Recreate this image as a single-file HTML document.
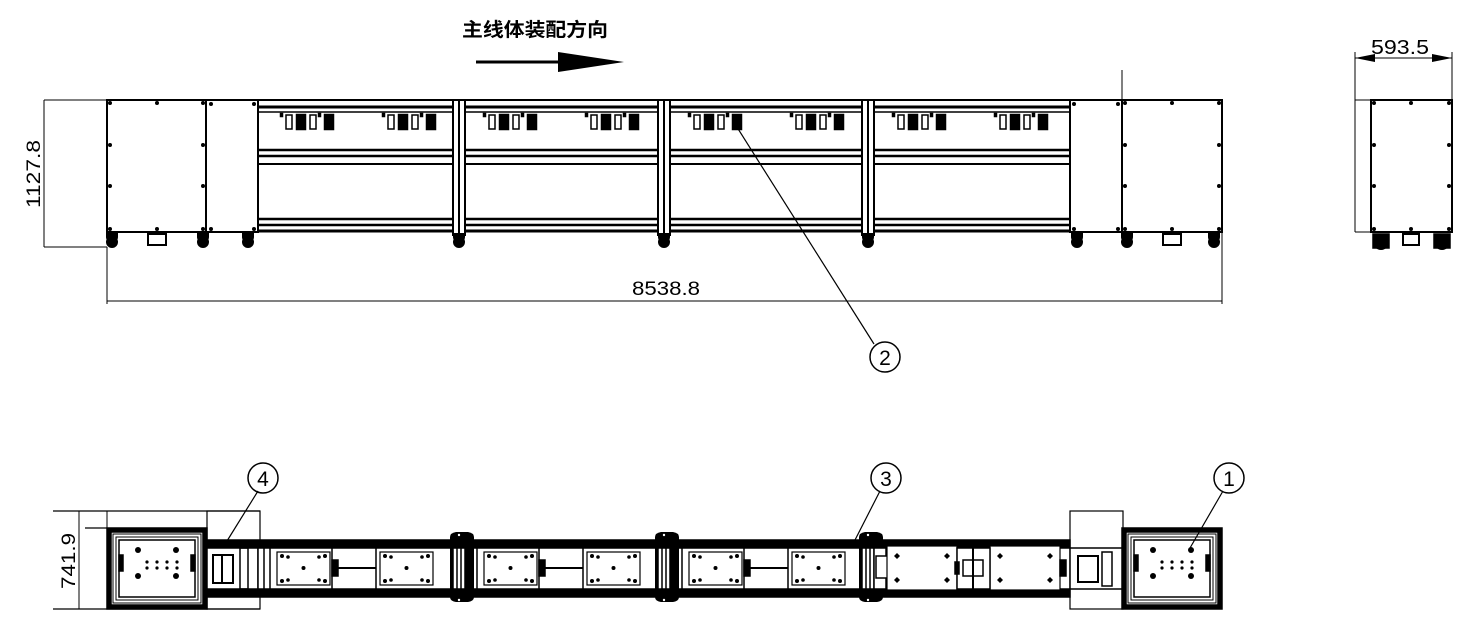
<!DOCTYPE html>
<html><head><meta charset="utf-8"><style>
html,body{margin:0;padding:0;background:#fff;}
svg{display:block;}
text{font-family:"Liberation Sans","Noto Sans CJK SC",sans-serif;}
</style></head><body>
<svg id="s" width="1471" height="626" viewBox="0 0 1471 626" xmlns="http://www.w3.org/2000/svg" stroke="#000" fill="none" stroke-width="1.5">
<!-- title + arrow -->
<text x="462" y="36" font-size="19" font-weight="bold" fill="#000" stroke="none" textLength="146" lengthAdjust="spacingAndGlyphs" font-family="'Noto Sans CJK SC',sans-serif">主线体装配方向</text>
<line x1="476" y1="62" x2="565" y2="62" stroke-width="3"/>
<polygon points="558,52 624,62 558,72" fill="#000" stroke="none"/>

<!-- top view: left dims -->
<line x1="44" y1="100" x2="107" y2="100" stroke-width="1"/>
<line x1="44" y1="247" x2="107" y2="247" stroke-width="1"/>
<line x1="44" y1="100" x2="44" y2="247" stroke-width="1"/>
<text transform="translate(40,174) rotate(-90)" text-anchor="middle" font-size="19" fill="#000" stroke="none" textLength="68" lengthAdjust="spacingAndGlyphs" font-family="'Liberation Mono',monospace">1127.8</text>

<!-- cabinets top -->
<rect x="107" y="100" width="99" height="132" stroke-width="2"/>
<rect x="206" y="100" width="52" height="132" stroke-width="2"/>
<rect x="1070" y="100" width="52" height="132" stroke-width="2"/>
<rect x="1122" y="100" width="100" height="132" stroke-width="2"/>
<line x1="1122" y1="70" x2="1122" y2="100" stroke-width="1"/>
<line x1="1222" y1="232" x2="1222" y2="250" stroke-width="1"/>
<!-- frame -->
<line x1="258" y1="100" x2="1070" y2="100" stroke-width="2"/>
<line x1="258" y1="107" x2="1070" y2="107" stroke-width="3"/>
<line x1="258" y1="112" x2="1070" y2="112" stroke-width="1.5"/>
<line x1="258" y1="150" x2="1070" y2="150" stroke-width="2.5"/>
<line x1="258" y1="156" x2="1070" y2="156" stroke-width="2.5"/>
<line x1="258" y1="164" x2="1070" y2="164" stroke-width="2"/>
<line x1="258" y1="219" x2="1070" y2="219" stroke-width="2.5"/>
<line x1="258" y1="225" x2="1070" y2="225" stroke-width="2.5"/>
<line x1="258" y1="231" x2="1070" y2="231" stroke-width="3"/>
<g id="topdyn"></g>

<!-- 8538.8 dim -->
<line x1="107" y1="247" x2="107" y2="304" stroke-width="1"/>
<line x1="1222" y1="250" x2="1222" y2="304" stroke-width="1"/>
<line x1="107" y1="301" x2="1222" y2="301" stroke-width="1"/>
<text x="666" y="295" text-anchor="middle" font-size="19" fill="#000" stroke="none" textLength="68" lengthAdjust="spacingAndGlyphs" font-family="'Liberation Mono',monospace">8538.8</text>

<!-- leader 2 -->
<line x1="735" y1="124" x2="874" y2="344" stroke-width="1.2"/>
<circle cx="885" cy="357" r="15" stroke-width="1.5"/>
<text x="885" y="365" text-anchor="middle" font-size="21" fill="#000" stroke="none">2</text>

<!-- side view right -->
<line x1="1355" y1="52" x2="1355" y2="232" stroke-width="1"/>
<line x1="1452" y1="52" x2="1452" y2="100" stroke-width="1"/>
<line x1="1355" y1="58" x2="1452" y2="58" stroke-width="1"/>
<polygon points="1355,58 1375,54 1375,62" fill="#000" stroke="none"/>
<polygon points="1452,58 1432,54 1432,62" fill="#000" stroke="none"/>
<text x="1400" y="54" text-anchor="middle" font-size="20" fill="#000" stroke="none" textLength="58" lengthAdjust="spacingAndGlyphs">593.5</text>
<line x1="1355" y1="100" x2="1371" y2="100" stroke-width="1"/>
<line x1="1355" y1="232" x2="1371" y2="232" stroke-width="1"/>
<rect x="1371" y="100" width="81" height="132" stroke-width="2"/>

<!-- bottom view -->
<line x1="53" y1="511" x2="260" y2="511" stroke-width="1.2"/>
<line x1="53" y1="609" x2="260" y2="609" stroke-width="1.2"/>
<line x1="79" y1="511" x2="79" y2="609" stroke-width="1"/>
<text transform="translate(75,561) rotate(-90)" text-anchor="middle" font-size="19" fill="#000" stroke="none" textLength="56" lengthAdjust="spacingAndGlyphs" font-family="'Liberation Mono',monospace">741.9</text>
<line x1="107" y1="511" x2="107" y2="609" stroke-width="1"/>
<line x1="85" y1="528" x2="107" y2="528" stroke-width="1.2"/>
<rect x="207" y="511" width="53" height="98" stroke-width="1.2"/>
<rect x="1070" y="511" width="53" height="98" stroke-width="1.2"/>
<g id="botdyn"></g>

<!-- circles bottom -->
<line x1="258" y1="491" x2="227" y2="541" stroke-width="1.2"/>
<circle cx="263" cy="478" r="15"/>
<text x="263" y="486" text-anchor="middle" font-size="21" fill="#000" stroke="none">4</text>
<line x1="880" y1="491" x2="855" y2="540" stroke-width="1.2"/>
<circle cx="886" cy="478" r="15"/>
<text x="886" y="486" text-anchor="middle" font-size="21" fill="#000" stroke="none">3</text>
<line x1="1223" y1="491" x2="1190" y2="548" stroke-width="1.2"/>
<circle cx="1229" cy="478" r="15"/>
<text x="1229" y="486" text-anchor="middle" font-size="21" fill="#000" stroke="none">1</text>
</svg>
<script>
var NS="http://www.w3.org/2000/svg";
function el(p,t,a){var e=document.createElementNS(NS,t);for(var k in a)e.setAttribute(k,a[k]);document.getElementById(p).appendChild(e);return e;}
function R(p,x,y,w,h,f,sw){return el(p,"rect",{x:x,y:y,width:w,height:h,fill:f||"none","stroke-width":sw||1.5});}
function C(p,x,y,r){return el(p,"circle",{cx:x,cy:y,r:r,fill:"#000",stroke:"none"});}
function L(p,a,b,c,d,w){return el(p,"line",{x1:a,y1:b,x2:c,y2:d,"stroke-width":w||1.5});}
var T="topdyn",B="botdyn";
[453,658,862].forEach(function(x){R(T,x,100,12,135,"#fff",2);L(T,x+6,100,x+6,235,2);});
L(T,258,100,258,232,2);
function grp(x){R(T,x,113,3,4,"#000",0.5);R(T,x+6,115,6,14,"#fff",1.5);R(T,x+16,114,10,16,"#000",0.5);R(T,x+30,115,6,14,"#fff",1.5);R(T,x+38,113,3,4,"#000",0.5);R(T,x+44,114,10,16,"#000",0.5);}
[262,465,670,874].forEach(function(b){grp(b+18);grp(b+120);});
function dots(x1,x2,y1,y2,mid){[y1,y1+42,y1+83,y2].forEach(function(y,i){C(T,x1+3,y,2);C(T,x2-3,y,2);});C(T,mid,y1,2);C(T,mid,y2,2);}
dots(107,206,103,229,157);dots(1122,1222,103,229,1172);dots(1371,1452,103,229,1411);
C(T,211,104,2);C(T,254,104,2);C(T,211,229,2);C(T,254,229,2);
C(T,1074,104,2);C(T,1118,104,2);C(T,1074,229,2);C(T,1118,229,2);
function caster(x){el(T,"path",{d:"M"+(x-6)+" 233 h12 v4 a6 6 0 1 1 -12 0z",fill:"#000",stroke:"none"});C(T,x,242,6);}
[112,203,248,459,664,868,1077,1127,1214].forEach(caster);
[1381,1442].forEach(function(x){R(T,x-8,234,16,14,"#000",0);C(T,x,242,8);});
R(T,148,234,18,11,"#fff",2);R(T,1163,234,18,11,"#fff",2);R(T,1403,234,16,11,"#fff",2);
R(B,207,540,863,8,"#000",0);R(B,207,589,863,8,"#000",0);
L(B,207,540,207,597,1.5);
function cab(x,w){R(B,x,528,w,81,"#000",0);R(B,x+4,532,w-8,73,"#fff",0);R(B,x+6,534,w-12,69,"none",1);R(B,x+9,537,w-18,63,"none",1);R(B,x+12,540,w-24,57,"#fff",1.5);
 C(B,x+31,550,3);C(B,x+w-31,550,3);C(B,x+31,576,3);C(B,x+w-31,576,3);
 [40,50,60,70].forEach(function(dx){C(B,x+dx,562,1.6);C(B,x+dx,568,1.6);});R(B,x+12,555,4,16,"#000",0);R(B,x+w-16,555,4,16,"#000",0);}
cab(107,100);cab(1122,100);
R(B,207,548,51,41,"#fff",1.5);R(B,213,555,20,28,"#fff",2);L(B,222,556,222,582,2);R(B,240,548,8,41,"none",1.5);
R(B,1070,548,52,41,"#fff",1.5);R(B,1078,556,20,26,"#fff",2);R(B,1102,552,10,34,"none",1.5);
function bay(x){R(B,x,548,12,41,"#fff",1.5);L(B,x+6,548,x+6,589,1.5);
 plate(x+19,x+72);R(B,x+74,548,44,41,"#fff",1.5);L(B,x+78,568,x+118,568,2);R(B,x+74,560,6,16,"#000",0);
 plate(x+122,x+175);}
function plate(a,b){R(B,a,552,b-a,33,"#fff",1.2);C(B,a+5,556,2);C(B,b-5,556,2);C(B,a+5,581,2);C(B,b-5,581,2);C(B,(a+b)/2,568,2);C(B,a+11,557,1.8);C(B,b-11,557,1.8);C(B,a+11,580,1.8);C(B,b-11,580,1.8);}
[258,465,670].forEach(bay);
[453,658,862].forEach(function(x){el(B,"path",{d:"M"+(x-3)+" 537 q0 -4 6 -5 h12 q6 1 6 5 v60 q0 4 -6 5 h-12 q-6 -1 -6 -5z",fill:"#000",stroke:"none"});
 R(B,x,548,12,41,"#fff",1.5);L(B,x+4,548,x+4,589,1.5);L(B,x+8,548,x+8,589,1.5);C(B,x+6,535,1.2).setAttribute("fill","#fff");C(B,x+6,600,1.2).setAttribute("fill","#fff");});
R(B,874,548,12,41,"#fff",1.5);R(B,876,556,16,22,"#fff",1.5);
function dplate(a,b){R(B,a,546,b-a,44,"#fff",1.2);[[a+10,556],[b-10,556],[a+10,580],[b-10,580]].forEach(function(p){el(B,"polygon",{points:(p[0]-3)+","+p[1]+" "+p[0]+","+(p[1]-3)+" "+(p[0]+3)+","+p[1]+" "+p[0]+","+(p[1]+3),fill:"#000",stroke:"none"});});}
dplate(887,957);dplate(990,1060);
R(B,957,548,33,41,"#fff",1.5);L(B,973,548,973,589,2);R(B,963,560,20,16,"none",1.5);
R(B,955,562,4,12,"#000",0);R(B,1060,560,6,16,"#000",0);
</script>
</body></html>
